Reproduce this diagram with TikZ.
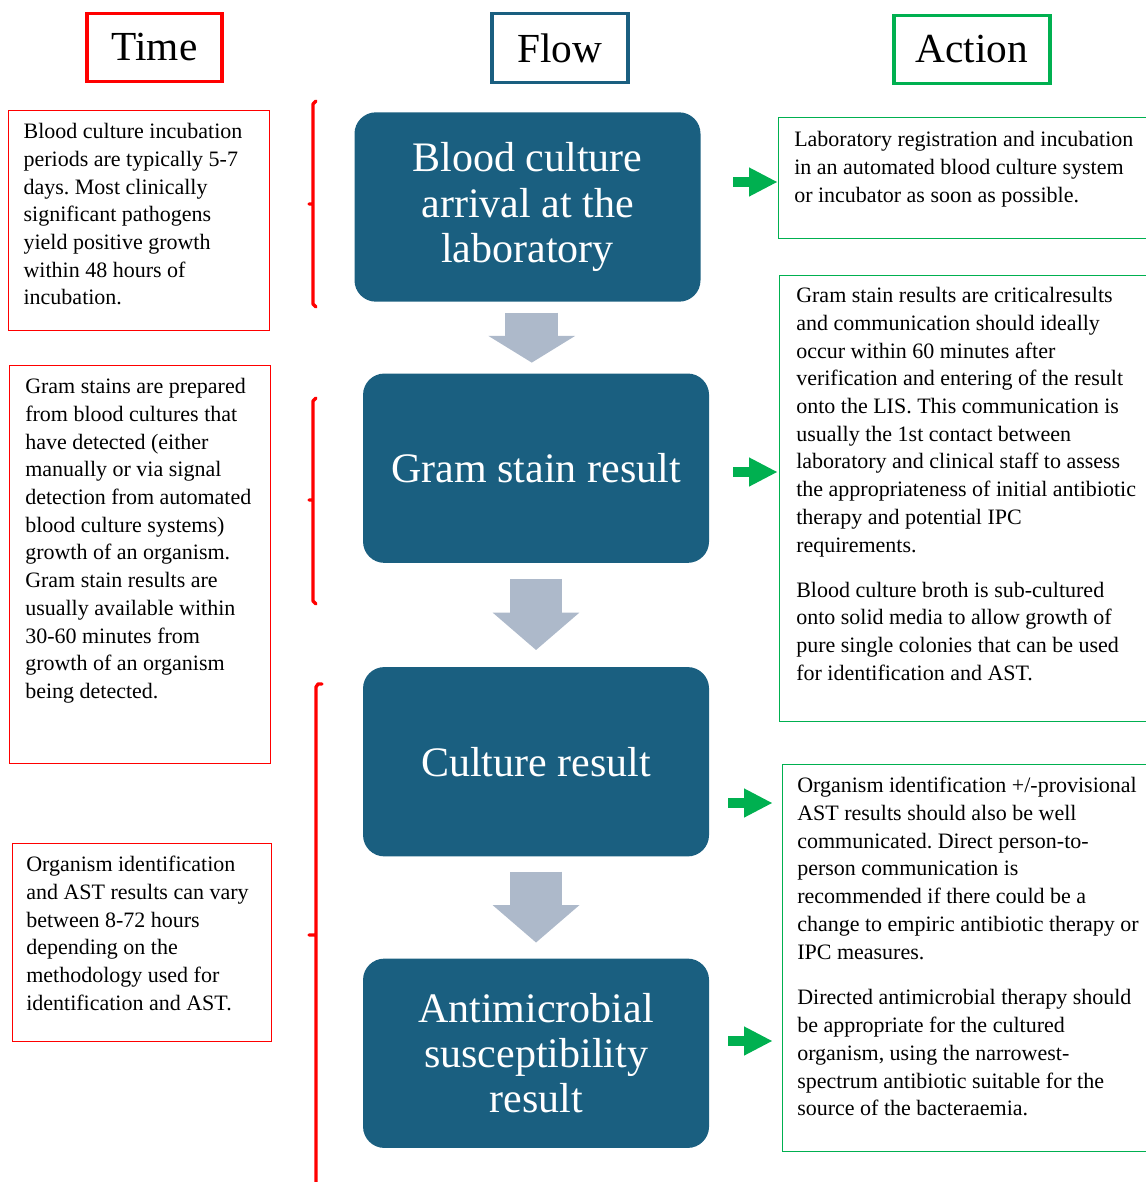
\documentclass[tikz,border=0pt]{standalone}
\usepackage{fontspec}
\setmainfont{Liberation Serif}
\usepackage{xcolor}
\usetikzlibrary{arrows.meta, positioning, calc}
\frenchspacing

\definecolor{flowblue}{HTML}{1A5F80}
\definecolor{arrowgray}{HTML}{ADB9CA}
\definecolor{actgreen}{HTML}{00B050}
\definecolor{timered}{HTML}{FF0000}

\tikzset{
  header/.style={rectangle, line width=2.4pt, inner sep=0pt, minimum height=51.5pt,
                 font=\fontsize{31}{34}\selectfont},
  flowbox/.style={rectangle, rounded corners=16pt, fill=flowblue, text=white, align=center,
                  inner sep=0pt, minimum width=259.5pt, minimum height=142pt,
                  font=\fontsize{31.5}{34}\selectfont},
  timebox/.style={rectangle, draw=timered, line width=1.1pt, inner sep=0pt, minimum width=195.75pt},
  actbox/.style={rectangle, draw=actgreen, line width=1.1pt, inner sep=0pt, minimum width=287pt},
  notetext/.style={align=left, inner sep=0pt, font=\fontsize{16.5}{20.8}\selectfont},
  flowarrow/.style={line width=39.5pt, draw=arrowgray,
                    -{Triangle[length=28pt, width=65pt, line width=0pt]}},
  actarrow/.style={line width=7.5pt, draw=actgreen,
                   -{Triangle[length=21pt, width=22pt, line width=0pt]}},
  bracket/.style={draw=timered, line width=2.5pt, line cap=round, line join=round},
}

\begin{document}
\begin{tikzpicture}[x=0.75pt, y=-0.75pt]
  \useasboundingbox (0,0) rectangle (1146,1182);

  % --- Column headers ---
  \node[header, draw=timered,  minimum width=101.25pt] (time)   at (154.5,47.5) {Time};
  \node[header, draw=flowblue, minimum width=102pt]    (flow)   at (560,48)     {Flow};
  \node[header, draw=actgreen, minimum width=117pt]    (action) at (972,49.5)   {Action};

  % --- Flow column ---
  \node[flowbox] (fb1) at (527.5,207) {Blood culture\\ arrival at the\\ laboratory};
  \node[flowbox, below=53.5pt of fb1, xshift=6.4pt] (fb2) {Gram stain result};
  \node[flowbox, below=77.75pt of fb2] (fb3) {Culture result};
  \node[flowbox, below=76.25pt of fb3] (fb4) {Antimicrobial\\ susceptibility\\ result};

  \draw[flowarrow, -{Triangle[length=20pt, width=65pt, line width=0pt]}]
        ($(fb1.south)!0.5!(fb2.north)+(0,-25)$) -- +(0,50);
  \draw[flowarrow] ($(fb2.south)!0.5!(fb3.north)+(0,-36)$) -- +(0,71);
  \draw[flowarrow] ($(fb3.south)!0.5!(fb4.north)+(0,-36)$) -- +(0,71);

  % --- Time column ---
  \node[timebox, minimum height=165pt, anchor=north west] (lb1) at (8,110) {};
  \node[notetext, below right=9.75pt and 11.5pt of lb1.north west] (lb1txt)
        {Blood culture incubation\\ periods are typically 5-7\\ days. Most clinically\\
         significant pathogens\\ yield positive growth\\ within 48 hours of\\ incubation.};

  \node[timebox, minimum height=298.5pt, anchor=north west] (lb2) at (9,365) {};
  \node[notetext, below right=9.75pt and 12pt of lb2.north west] (lb2txt)
        {Gram stains are prepared\\ from blood cultures that\\ have detected (either\\
         manually or via signal\\ detection from automated\\ blood culture systems)\\
         growth of an organism.\\ Gram stain results are\\ usually available within\\
         30-60 minutes from\\ growth of an organism\\ being detected.};

  \node[timebox, minimum width=194.25pt, minimum height=148.5pt, anchor=north west] (lb3) at (12,843) {};
  \node[notetext, below right=9.75pt and 10.5pt of lb3.north west] (lb3txt)
        {Organism identification\\ and AST results can vary\\ between 8-72 hours\\
         depending on the\\ methodology used for\\ identification and AST.};

  % brackets
  \draw[bracket] (316,101) -- (313,104) -- (313,304) -- (316,307) (313,204) -- (309,204);
  \draw[bracket] (316,398) -- (313,401) -- (313,601) -- (316,604) (313,500) -- (309,500);
  \draw[bracket] (322,684) -- (318,684) -- (316,687) -- (316,1190) (316,935) -- (309,935);

  % --- Action column ---
  \node[actbox, minimum height=90.75pt, anchor=north west] (ab1) at (778,117) {};
  \node[notetext, below right=10.5pt and 12pt of ab1.north west] (ab1txt)
        {Laboratory registration and incubation\\ in an automated blood culture system\\
         or incubator as soon as possible.};

  \node[actbox, minimum height=334.5pt, anchor=north west] (ab2) at (779,275) {};
  \node[notetext, below right=9pt and 12.75pt of ab2.north west] (ab2txt)
        {Gram stain results are criticalresults\\ and communication should ideally\\
         occur within 60 minutes after\\ verification and entering of the result\\
         onto the LIS. This communication is\\ usually the 1st contact between\\
         laboratory and clinical staff to assess\\ the appropriateness of initial antibiotic\\
         therapy and potential IPC\\ requirements.\\[13pt]
         Blood culture broth is sub-cultured\\ onto solid media to allow growth of\\
         pure single colonies that can be used\\ for identification and AST.};

  \node[actbox, minimum height=290.25pt, anchor=north west] (ab3) at (782,764) {};
  \node[notetext, below right=9.75pt and 11.25pt of ab3.north west] (ab3txt)
        {Organism identification +/-provisional\\ AST results should also be well\\
         communicated. Direct person-to-\\ person communication is\\
         recommended if there could be a\\ change to empiric antibiotic therapy or\\
         IPC measures.\\[13.5pt]
         Directed antimicrobial therapy should\\ be appropriate for the cultured\\
         organism, using the narrowest-\\ spectrum antibiotic suitable for the\\
         source of the bacteraemia.};

  \draw[actarrow] (ab1.west |- 0,182)  +(-45,0) -- +(-1,0);
  \draw[actarrow] (ab2.west |- 0,472)  +(-46,0) -- +(-2,0);
  \draw[actarrow] (ab3.west |- 0,803)  +(-54,0) -- +(-10,0);
  \draw[actarrow] (ab3.west |- 0,1041) +(-54,0) -- +(-10,0);

\end{tikzpicture}
\end{document}
